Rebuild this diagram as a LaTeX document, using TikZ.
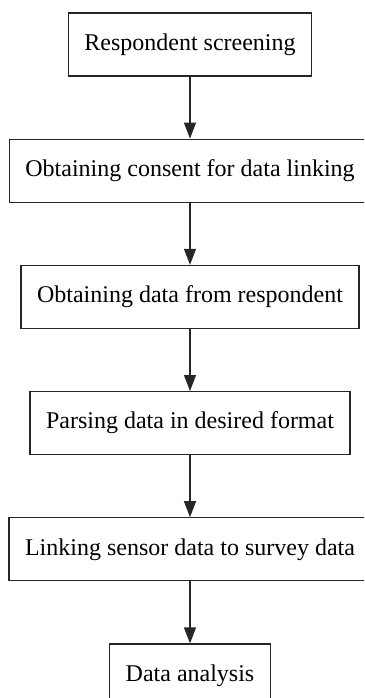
\documentclass[tikz,border=0pt]{standalone}
\usepackage{fontspec}
\setmainfont{Liberation Serif}
\usetikzlibrary{positioning, arrows.meta}
\tikzset{stage/.style={draw=black!85, line width=1.2pt, rectangle, inner xsep=16pt, minimum height=63pt, font=\fontsize{24}{28}\selectfont}}
\tikzset{feed/.style={draw=black!85, line width=1.2pt, {Triangle[length=16pt, width=12pt]}-}}

\begin{document}
\begin{tikzpicture}[x=1pt, y=1pt]
      \clip (0,0) rectangle (364,-698);
      \node[stage] (screen) at (190,-44.5) {Respondent screening};
      \node[stage] (consent) [below=62pt of screen] {Obtaining consent for data linking}
      edge[feed] (screen);
      \node[stage] (collect) [below=62pt of consent] {Obtaining data from respondent}
      edge[feed] (consent);
      \node[stage] (parse) [below=62pt of collect] {Parsing data in desired format}
      edge[feed] (collect);
      \node[stage] (link) [below=62pt of parse] {Linking sensor data to survey data}
      edge[feed] (parse);
      \node[stage] (analysis) [below=62pt of link] {Data analysis}
      edge[feed] (link);
    \end{tikzpicture}
\end{document}
